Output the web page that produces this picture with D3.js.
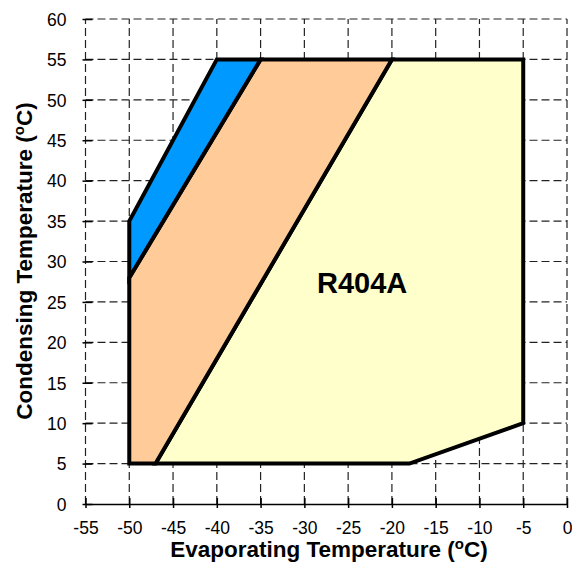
<!DOCTYPE html>
<html lang="en">
<head>
  <meta charset="UTF-8" />
  <title>R404A operating envelope</title>
  <style>
    body { margin: 0; padding: 0; background: #fff; font-family: "Liberation Sans", Arial, sans-serif; }
    svg { display: block; }
    .grid line { stroke: #222; stroke-width: 1.2px; stroke-dasharray: 8 4; }
    .tick-lbl { font-size: 17.5px; fill: #000; }
    .title { font-size: 22.5px; font-weight: bold; fill: #000; }
    .zone { stroke: #000; stroke-width: 4px; stroke-linejoin: miter; }
  </style>
</head>
<body>
  <svg id="chart" width="572" height="571"></svg>
  <script src="https://d3js.org/d3.v7.min.js"></script>
  <script>
    // ticks
    const xTicks = [-55, -50, -45, -40, -35, -30, -25, -20, -15, -10, -5, 0];
    const yTicks = [0, 5, 10, 15, 20, 25, 30, 35, 40, 45, 50, 55, 60];

    // envelope zones, [evap, cond] corners
    const blueZone = [[-50, 35], [-40, 55], [-35, 55], [-50, 28]];
    const orangeZone = [[-50, 28], [-35, 55], [-20, 55], [-47, 5], [-50, 5]];
    const yellowZone = [[-47, 5], [-20, 55], [-5, 55], [-5, 10], [-18, 5]];

    const zoneLabel = "R404A";
    const zoneLabelAt = [-23.4, 26.1];

    const svg = d3.select("#chart");

    const x = d3.scaleLinear().domain([-55, 0]).range([85.5, 567]);
    const y = d3.scaleLinear().domain([0, 60]).range([504, 19]);

    // dashed grid
    const grid = svg.append("g").attr("class", "grid");
    grid.selectAll(".gx")
      .data(xTicks)
      .enter().append("line")
      .attr("x1", d => x(d)).attr("x2", d => x(d))
      .attr("y1", y(0)).attr("y2", y(60));
    grid.selectAll(".gy")
      .data(yTicks.filter(d => d > 0))
      .enter().append("line")
      .attr("x1", x(-55)).attr("x2", x(0))
      .attr("y1", d => y(d)).attr("y2", d => y(d));

    const line = d3.line().x(d => x(d[0])).y(d => y(d[1]));
    const zones = [
      { pts: yellowZone, color: "#ffffcc" },
      { pts: orangeZone, color: "#ffcc99" },
      { pts: blueZone, color: "#0099ff" }
    ];
    svg.selectAll(".zone")
      .data(zones)
      .enter().append("path")
      .attr("class", "zone")
      .attr("fill", d => d.color)
      .attr("d", d => line(d.pts) + "Z");

    // bottom axis (solid) and left ticks
    const xAxis = d3.axisBottom(x).tickValues(xTicks).tickSize(0).tickFormat(d => String(d));
    const gx = svg.append("g").attr("transform", `translate(0,${y(0)})`).call(xAxis);
    gx.attr("font-family", null).attr("font-size", null);
    gx.select(".domain").attr("stroke", "#000").attr("stroke-width", 1.5);
    gx.selectAll(".tick line").remove();
    gx.selectAll(".tick").append("line")
      .attr("y1", -6).attr("y2", 4).attr("stroke", "#000").attr("stroke-width", 1.5);
    gx.selectAll(".tick text").attr("class", "tick-lbl").attr("y", 30).attr("dy", 0);

    const yAxis = d3.axisLeft(y).tickValues(yTicks).tickSize(0).tickPadding(19).tickFormat(d => String(d));
    const gy = svg.append("g").attr("transform", `translate(${x(-55)},0)`).call(yAxis);
    gy.attr("font-family", null).attr("font-size", null);
    gy.select(".domain").remove();
    gy.selectAll(".tick line").remove();
    gy.selectAll(".tick").append("line")
      .attr("x1", -3).attr("x2", 7).attr("stroke", "#000").attr("stroke-width", 1.5);
    gy.selectAll(".tick text").attr("class", "tick-lbl").attr("dy", "0.36em");

    // zone label
    svg.append("text")
      .attr("x", x(zoneLabelAt[0])).attr("y", y(zoneLabelAt[1]))
      .attr("text-anchor", "middle")
      .style("font-size", "29px").style("font-weight", "bold")
      .text(zoneLabel);

    // axis titles with superscript o
    function title(sel, text) {
      sel.append("tspan").text(text + " (");
      sel.append("tspan").attr("dy", -8).style("font-size", "15px").text("o");
      sel.append("tspan").attr("dy", 8).text("C)");
    }
    svg.append("text").attr("class", "title")
      .attr("x", 329).attr("y", 557).attr("text-anchor", "middle")
      .call(title, "Evaporating Temperature");
    svg.append("text").attr("class", "title")
      .attr("transform", "translate(32,261) rotate(-90)")
      .attr("text-anchor", "middle")
      .call(title, "Condensing Temperature");
  </script>
</body>
</html>
